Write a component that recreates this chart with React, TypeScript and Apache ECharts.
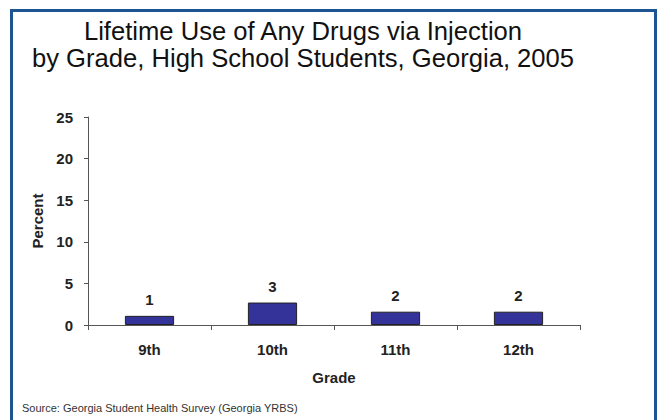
import React, { useEffect, useRef } from "react";
import * as echarts from "echarts";

const titleLines = [
  "Lifetime Use of Any Drugs via Injection",
  "by Grade, High School Students, Georgia, 2005",
];
const grades = ["9th", "10th", "11th", "12th"];
const percents = [1.1, 2.7, 1.6, 1.6];
const yTicks = { min: 0, max: 25, interval: 5 };
const sourceNote = "Source: Georgia Student Health Survey (Georgia YRBS)";

const FONT = "'Liberation Sans', Arial, sans-serif";

export default function App() {
  const ref = useRef<HTMLDivElement>(null);
  useEffect(() => {
    if (!ref.current) return;
    const chart = echarts.init(ref.current, undefined, { renderer: "svg" });
    const boldText = { fontFamily: FONT, fontSize: 15, fontWeight: "bold", color: "#222" };
    chart.setOption({
      animation: false,
      backgroundColor: "#ffffff",
      textStyle: { fontFamily: FONT },
      grid: { left: 88, right: 80, top: 117, bottom: 95 },
      xAxis: {
        type: "category",
        data: grades,
        name: "Grade",
        nameLocation: "middle",
        nameGap: 45,
        nameTextStyle: boldText,
        axisLine: { lineStyle: { color: "#555", width: 1 } },
        axisTick: { show: true, length: 5, lineStyle: { color: "#555" } },
        axisLabel: { ...boldText, margin: 17 },
      },
      yAxis: {
        type: "value",
        min: yTicks.min,
        max: yTicks.max,
        interval: yTicks.interval,
        name: "Percent",
        nameLocation: "middle",
        nameGap: 41,
        nameTextStyle: boldText,
        axisLine: { show: true, lineStyle: { color: "#555", width: 1 } },
        axisTick: { show: true, length: 4, lineStyle: { color: "#555" } },
        splitLine: { show: false },
        axisLabel: { ...boldText, margin: 15 },
      },
      series: [
        {
          type: "bar",
          data: percents,
          barWidth: "40%",
          itemStyle: { color: "#333399", borderColor: "#222", borderWidth: 1 },
          label: {
            show: true,
            position: "top",
            distance: 9,
            ...boldText,
            formatter: (p: any) => String(Math.round(p.value)),
          },
        },
      ],
      graphic: [
        {
          type: "rect",
          shape: { x: 11.5, y: 10.5, width: 644, height: 430 },
          style: { fill: "none", stroke: "#1c5592", lineWidth: 3 },
          silent: true,
        },
        {
          type: "text",
          x: 303,
          y: 18,
          style: {
            text: titleLines[0],
            fontFamily: FONT,
            fontSize: 25.6,
            fill: "#111",
            align: "center",
            verticalAlign: "top",
          },
        },
        {
          type: "text",
          x: 303,
          y: 45,
          style: {
            text: titleLines[1],
            fontFamily: FONT,
            fontSize: 25.6,
            fill: "#111",
            align: "center",
            verticalAlign: "top",
          },
        },
        {
          type: "text",
          x: 22,
          y: 402,
          style: {
            text: sourceNote,
            fontFamily: FONT,
            fontSize: 11,
            fill: "#333",
            align: "left",
            verticalAlign: "top",
          },
        },
      ],
    });
    return () => chart.dispose();
  }, []);
  return (
    <div
      ref={ref}
      style={{ position: "absolute", left: 0, top: 0, width: 660, height: 420 }}
    />
  );
}
